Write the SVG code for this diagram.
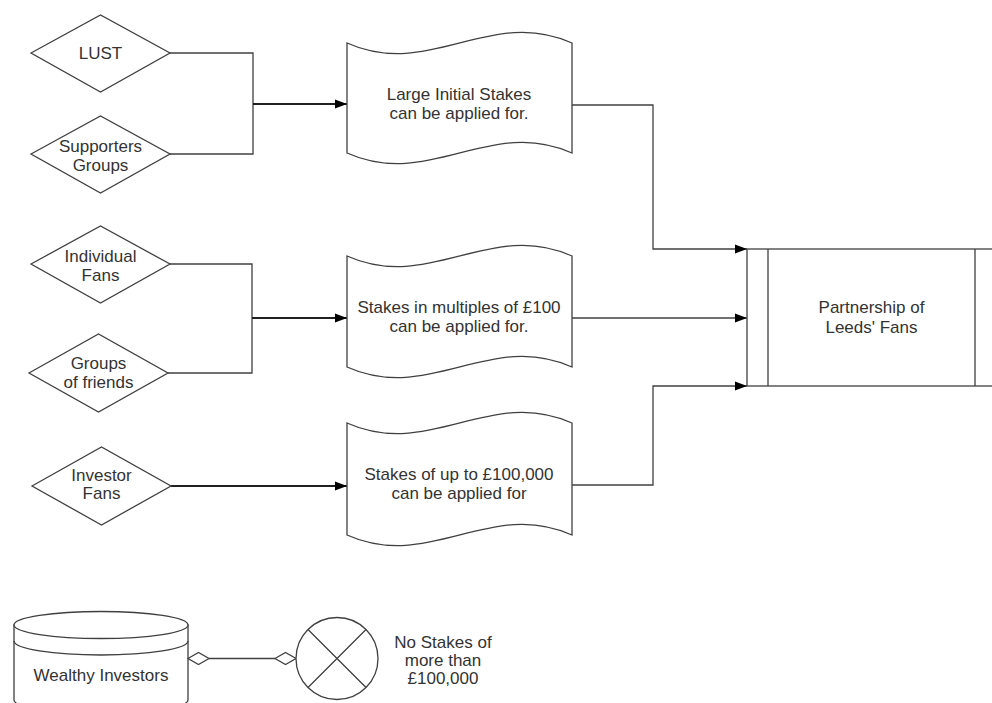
<svg xmlns="http://www.w3.org/2000/svg" width="992" height="703" viewBox="0 0 992 703">
<defs>
<style>
.s{fill:#fff;stroke:#404040;stroke-width:1.3}
.c{fill:none;stroke:#404040;stroke-width:1.3}
.a{fill:none;stroke:#202020;stroke-width:1.8}
text{font-family:"Liberation Sans",Arial,sans-serif;font-size:17px;fill:#333;text-anchor:middle}
</style>
<marker id="arr" markerUnits="userSpaceOnUse" markerWidth="14" markerHeight="12" refX="12" refY="5" orient="auto">
<path d="M0,0.5 L12,5 L0,9.5 Z" fill="#000"/>
</marker>
</defs>
<rect width="992" height="703" fill="#fff"/>
<g id="connectors">
<path class="c" d="M170,53 H253 V154 H170"/>
<path class="a" d="M253,104 H347" marker-end="url(#arr)"/>
<path class="c" d="M170,264 H252 V373 H168"/>
<path class="a" d="M252,318 H347" marker-end="url(#arr)"/>
<path class="a" d="M171,486 H347" marker-end="url(#arr)"/>
<path class="c" d="M572,105 H653 V249 H747" marker-end="url(#arr)"/>
<path class="c" d="M572,318 H747" marker-end="url(#arr)"/>
<path class="c" d="M572,485 H653 V386 H747" marker-end="url(#arr)"/>
<path class="c" d="M209,658.5 H275"/>
</g>
<g id="lust">
<polygon class="s" points="31,53 100.5,15 170,53 100.5,92"/>
<text x="100.5" y="59">LUST</text>
</g>
<g id="supporters">
<polygon class="s" points="31,154 100.5,116 170,154 100.5,193"/>
<text x="100.5" y="152">Supporters</text>
<text x="100.5" y="171">Groups</text>
</g>
<g id="individual">
<polygon class="s" points="31,264 100.5,226 170,264 100.5,303"/>
<text x="100.5" y="262">Individual</text>
<text x="100.5" y="281">Fans</text>
</g>
<g id="groups">
<polygon class="s" points="29,373 98.5,334 168,373 98.5,412"/>
<text x="98.5" y="369">Groups</text>
<text x="98.5" y="388">of friends</text>
</g>
<g id="investor">
<polygon class="s" points="32,486 101.5,447 171,486 101.5,525"/>
<text x="101.5" y="481">Investor</text>
<text x="101.5" y="499">Fans</text>
</g>
<g id="large">
<path class="s" transform="translate(347,43)" d="M0,0 C83,37 143,-37 225,0 L225,110 C143,73 83,147 0,110 Z"/>
<text x="459" y="100">Large Initial Stakes</text>
<text x="459" y="119">can be applied for.</text>
</g>
<g id="multiples">
<path class="s" transform="translate(347,256)" d="M0,0 C83,37 143,-37 225,0 L225,111 C143,74 83,148 0,111 Z"/>
<text x="459" y="313">Stakes in multiples of £100</text>
<text x="459" y="332">can be applied for.</text>
</g>
<g id="upto">
<path class="s" transform="translate(347,423)" d="M0,0 C83,37 143,-37 225,0 L225,112 C143,75 83,149 0,112 Z"/>
<text x="459" y="480">Stakes of up to £100,000</text>
<text x="459" y="499">can be applied for</text>
</g>
<g id="partnership">
<rect class="s" x="747" y="249" width="249" height="137"/>
<line class="c" x1="768" y1="249" x2="768" y2="386"/>
<line class="c" x1="975" y1="249" x2="975" y2="386"/>
<text x="871.5" y="313">Partnership of</text>
<text x="871.5" y="333">Leeds' Fans</text>
</g>
<g id="wealthy">
<path class="s" d="M14,625 V700 A87,13.5 0 0 0 188,700 V625 Z"/>
<ellipse class="s" cx="101" cy="625" rx="87" ry="13.5"/>
<path class="c" d="M14,641 A87,14 0 0 0 188,641"/>
<text x="101" y="681">Wealthy Investors</text>
<polygon class="s" points="188,658.5 198.5,652.5 209,658.5 198.5,664.5"/>
</g>
<g id="limit">
<polygon class="s" points="275,658.5 285.5,652.5 296,658.5 285.5,664.5"/>
<circle class="s" cx="337" cy="658.5" r="41"/>
<path class="c" d="M308,629.5 L366,687.5 M366,629.5 L308,687.5"/>
</g>
<g id="note">
<text x="443" y="648">No Stakes of</text>
<text x="443" y="666">more than</text>
<text x="443" y="684">£100,000</text>
</g>
</svg>
